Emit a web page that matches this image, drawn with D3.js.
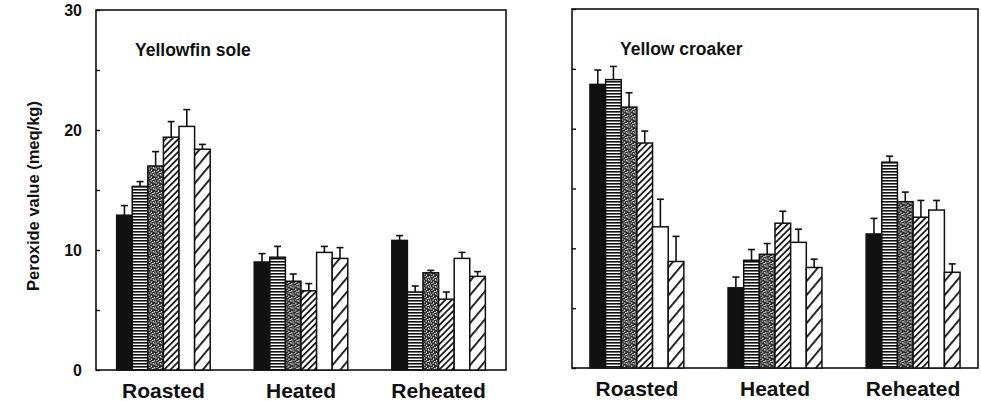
<!DOCTYPE html>
<html>
<head>
<meta charset="utf-8">
<script src="https://cdn.jsdelivr.net/npm/d3@7"></script>
<style>
  body { margin: 0; background: #fff; }
  text { font-family: "Liberation Sans", Arial, sans-serif; font-weight: bold; fill: #111; }
</style>
</head>
<body>
<div id="container"></div>
<script>
// categories and series
var categories = ["Roasted", "Heated", "Reheated"];
var series = ["s1", "s2", "s3", "s4", "s5", "s6"];
var yTicks = [0, 5, 10, 15, 20, 25, 30];
var yLabels = [0, 10, 20, 30];

// Yellowfin sole: means and (upper) error per category, per series
var soleMeans = [[12.9, 15.3, 17.0, 19.4, 20.3, 18.4],
                 [9.0, 9.4, 7.4, 6.6, 9.8, 9.3],
                 [10.8, 6.5, 8.1, 5.9, 9.3, 7.8]];
var soleErr   = [[0.8, 0.4, 1.2, 1.3, 1.4, 0.4],
                 [0.7, 0.9, 0.6, 0.6, 0.5, 0.9],
                 [0.4, 0.5, 0.2, 0.6, 0.5, 0.4]];

// Yellow croaker
var croakerMeans = [[23.7, 24.1, 21.8, 18.8, 11.8, 8.9],
                    [6.7, 9.0, 9.5, 12.1, 10.5, 8.4],
                    [11.2, 17.2, 13.9, 12.6, 13.2, 8.0]];
var croakerErr   = [[1.2, 1.1, 1.2, 1.0, 2.3, 2.1],
                    [0.9, 0.9, 0.9, 1.0, 1.1, 0.7],
                    [1.3, 0.5, 0.8, 1.4, 0.8, 0.7]];

var width = 981, height = 401;

var svg = d3.select("#container")
  .append("svg")
    .attr("width", width)
    .attr("height", height);

// fill patterns
var defs = svg.append("defs");

// horizontal stripes
var p2 = defs.append("pattern").attr("id", "hstripe")
  .attr("patternUnits", "userSpaceOnUse").attr("width", 4).attr("height", 3);
p2.append("rect").attr("width", 4).attr("height", 3).attr("fill", "#fff");
p2.append("rect").attr("width", 4).attr("height", 1.6).attr("fill", "#111");

// stipple
var p3 = defs.append("pattern").attr("id", "stipple")
  .attr("patternUnits", "userSpaceOnUse").attr("width", 7).attr("height", 7);
p3.append("rect").attr("width", 7).attr("height", 7).attr("fill", "#2e2e2e");
[[0.5, 0.5, 1.5, 1], [3, 1.5, 1, 1.5], [5.5, 0, 1, 1], [1.5, 3, 1, 1], [4, 4, 1.5, 1],
 [0, 5.5, 1, 1], [2.5, 5.5, 1.5, 1], [6, 3, 1, 1.5], [5, 6, 1, 1]].forEach(function(d) {
  p3.append("rect").attr("x", d[0]).attr("y", d[1]).attr("width", d[2]).attr("height", d[3]).attr("fill", "#fff");
});

// fine diagonal hatch
var p4 = defs.append("pattern").attr("id", "fine")
  .attr("patternUnits", "userSpaceOnUse").attr("width", 4.5).attr("height", 4.5)
  .attr("patternTransform", "rotate(45)");
p4.append("rect").attr("width", 4.5).attr("height", 4.5).attr("fill", "#fff");
p4.append("rect").attr("width", 1.7).attr("height", 4.5).attr("fill", "#111");

// coarse diagonal hatch
var p6 = defs.append("pattern").attr("id", "coarse")
  .attr("patternUnits", "userSpaceOnUse").attr("width", 9).attr("height", 9)
  .attr("patternTransform", "rotate(40)");
p6.append("rect").attr("width", 9).attr("height", 9).attr("fill", "#fff");
p6.append("rect").attr("width", 1.8).attr("height", 9).attr("fill", "#111");

var fills = {s1: "#111", s2: "url(#hstripe)", s3: "url(#stipple)",
             s4: "url(#fine)", s5: "#fff", s6: "url(#coarse)"};

// y axis title
svg.append("text")
  .attr("transform", "translate(39,196)rotate(-90)")
  .attr("text-anchor", "middle")
  .style("font-size", "16.5px")
  .text("Peroxide value (meq/kg)");

function drawPanel(cfg) {
  var x = d3.scaleBand()
    .domain(categories)
    .range([cfg.left, cfg.right])
    .paddingInner(0.32)
    .paddingOuter(cfg.outer);

  var x1 = d3.scaleBand()
    .domain(series)
    .range([0, x.bandwidth()]);

  var y = d3.scaleLinear()
    .domain([0, 30])
    .range([cfg.bottom, cfg.top]);

  var g = svg.append("g");

  // frame
  g.append("rect")
    .attr("x", cfg.left).attr("y", cfg.top)
    .attr("width", cfg.right - cfg.left).attr("height", cfg.bottom - cfg.top)
    .attr("fill", "none").attr("stroke", "#111").attr("stroke-width", 1.6);

  // y axis with inward ticks
  var ax = g.append("g")
    .attr("transform", "translate(" + cfg.left + ",0)")
    .call(d3.axisLeft(y).tickValues(yTicks).tickSize(-4).tickPadding(14)
      .tickFormat(function(d) { return cfg.labels && yLabels.indexOf(d) >= 0 ? d : ""; }));
  ax.select(".domain").remove();
  ax.selectAll("line").attr("stroke", "#111").attr("stroke-width", 1.4);
  ax.selectAll("text")
    .style("font-size", "16px")
    .style("font-family", "Liberation Sans, Arial, sans-serif")
    .style("font-weight", "bold")
    .attr("fill", "#111");

  var rows = [];
  categories.forEach(function(c, i) {
    series.forEach(function(s, j) {
      rows.push({cat: c, s: s, v: cfg.means[i][j], e: cfg.err[i][j]});
    });
  });

  var bars = g.selectAll(".bar")
    .data(rows)
    .enter()
    .append("g")
    .attr("transform", function(d) { return "translate(" + (x(d.cat) + x1(d.s)) + ",0)"; });

  // error bars (upper only)
  bars.append("line")
    .attr("x1", x1.bandwidth() / 2).attr("x2", x1.bandwidth() / 2)
    .attr("y1", function(d) { return y(d.v); })
    .attr("y2", function(d) { return y(d.v + d.e); })
    .attr("stroke", "#111").attr("stroke-width", 1.6);
  bars.append("line")
    .attr("x1", x1.bandwidth() / 2 - 3.5).attr("x2", x1.bandwidth() / 2 + 3.5)
    .attr("y1", function(d) { return y(d.v + d.e); })
    .attr("y2", function(d) { return y(d.v + d.e); })
    .attr("stroke", "#111").attr("stroke-width", 1.6);

  bars.append("rect")
    .attr("x", 0)
    .attr("y", function(d) { return y(d.v); })
    .attr("width", x1.bandwidth())
    .attr("height", function(d) { return y(0) - y(d.v); })
    .attr("fill", function(d) { return fills[d.s]; })
    .attr("stroke", "#111")
    .attr("stroke-width", 1.5);

  // category labels
  g.selectAll(".cat")
    .data(categories)
    .enter()
    .append("text")
    .attr("x", function(d) { return x(d) + x.bandwidth() / 2; })
    .attr("y", cfg.bottom + 28)
    .attr("text-anchor", "middle")
    .style("font-size", "21px")
    .text(function(d) { return d; });

  // panel title
  g.append("text")
    .attr("x", cfg.titleX)
    .attr("y", cfg.top + 46)
    .style("font-size", "17.5px")
    .text(cfg.title);
}

drawPanel({left: 96, right: 506, top: 10, bottom: 370, outer: 0.15, labels: true,
           means: soleMeans, err: soleErr, title: "Yellowfin sole", titleX: 135});
drawPanel({left: 572, right: 978, top: 9, bottom: 368, outer: 0.13, labels: false,
           means: croakerMeans, err: croakerErr, title: "Yellow croaker", titleX: 620});
</script>
</body>
</html>
